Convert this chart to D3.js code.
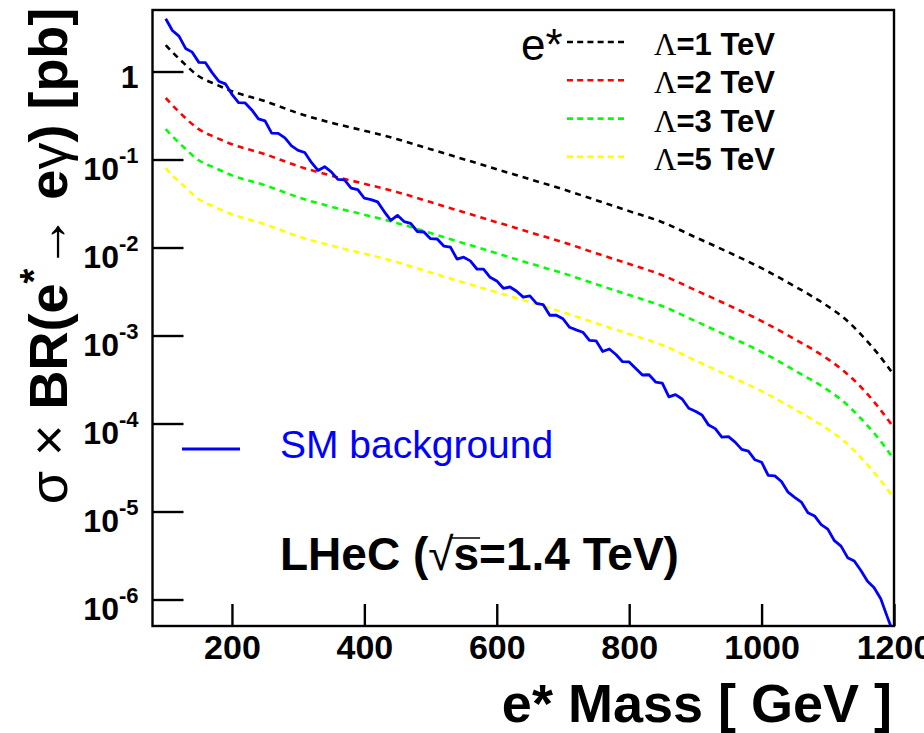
<!DOCTYPE html>
<html>
<head>
<meta charset="utf-8">
<script src="https://cdn.jsdelivr.net/npm/d3@7/dist/d3.min.js"></script>
<style>
body { margin: 0; background: #fff; }
svg { display: block; font-family: "Liberation Sans", Arial, sans-serif; }
</style>
</head>
<body>
<script>
// e* signal: sigma x BR (pb) at these masses (GeV)
var sigMass = [100, 110, 125, 150, 175, 200, 250, 300, 350, 400, 450, 500, 550, 600, 650, 700, 750, 800, 850, 900, 950, 1000, 1050, 1100, 1125, 1150, 1175, 1200];
var sigL1 = [1.99, 1.66, 1.29, 0.884, 0.717, 0.597, 0.46, 0.336, 0.262, 0.2125, 0.170, 0.131, 0.1008, 0.0776, 0.0597, 0.0459, 0.0345, 0.0259, 0.0194, 0.0131, 0.00884, 0.00582, 0.00363, 0.00215, 0.00157, 0.00103, 6.3e-4, 3.54e-4];
var sigL2 = [0.50, 0.415, 0.32, 0.221, 0.179, 0.149, 0.115, 0.084, 0.0655, 0.053, 0.0425, 0.0328, 0.0252, 0.0194, 0.0149, 0.0115, 0.0086, 0.0065, 0.00485, 0.00328, 0.00221, 0.00146, 9.1e-4, 5.4e-4, 3.9e-4, 2.6e-4, 1.58e-4, 8.9e-5];
var sigL3 = [0.221, 0.184, 0.143, 0.098, 0.080, 0.066, 0.051, 0.0373, 0.0291, 0.0236, 0.0189, 0.0146, 0.0112, 0.0086, 0.0066, 0.0051, 0.00383, 0.00288, 0.00216, 0.00146, 9.8e-4, 6.5e-4, 4.0e-4, 2.4e-4, 1.74e-4, 1.14e-4, 7.0e-5, 3.9e-5];
var sigL5 = [0.080, 0.066, 0.052, 0.0354, 0.0287, 0.0239, 0.0184, 0.0134, 0.0105, 0.0085, 0.0068, 0.0052, 0.0040, 0.0031, 0.0024, 0.00184, 0.00138, 0.00104, 7.8e-4, 5.2e-4, 3.5e-4, 2.33e-4, 1.45e-4, 8.6e-5, 6.3e-5, 4.1e-5, 2.5e-5, 1.42e-5];
var sigLabels = ['1 TeV', '2 TeV', '3 TeV', '5 TeV'];

// SM background histogram (pb)
var bgMass = [100, 110, 120, 130, 140, 150, 160, 170, 180, 190, 200, 210, 220, 230, 240, 250, 260, 270, 280, 290,
    300, 310, 320, 330, 340, 350, 360, 370, 380, 390, 400, 410, 420, 430, 440, 450, 460, 470, 480, 490,
    500, 510, 520, 530, 540, 550, 560, 570, 580, 590, 600, 610, 620, 630, 640, 650, 660, 670, 680, 690,
    700, 710, 720, 730, 740, 750, 760, 770, 780, 790, 800, 810, 820, 830, 840, 850, 860, 870, 880, 890,
    900, 910, 920, 930, 940, 950, 960, 970, 980, 990, 1000, 1010, 1020, 1030, 1040, 1050, 1060, 1070, 1080, 1090,
    1100, 1110, 1120, 1130, 1140, 1150, 1160, 1170, 1180, 1190, 1200];
var bgXsec = [3.98, 2.92, 2.52, 1.83, 1.66, 1.27, 1.26, 0.971, 0.776, 0.724, 0.550, 0.443, 0.439, 0.366, 0.290, 0.275, 0.199, 0.198, 0.176, 0.143,
    0.127, 0.120, 0.0927, 0.0752, 0.0828, 0.0724, 0.0594, 0.0586, 0.0474, 0.0455, 0.0363, 0.0350, 0.0330, 0.0256, 0.0203, 0.0232, 0.0197, 0.0188, 0.0152, 0.0150,
    0.0126, 0.0125, 0.0104, 0.0101, 0.00738, 0.00776, 0.00705, 0.00570, 0.00568, 0.00459, 0.00417, 0.00344, 0.00356, 0.00318, 0.00273, 0.00282, 0.00232, 0.00225, 0.00170, 0.00170,
    0.00155, 0.00124, 0.00116, 0.00109, 8.79e-4, 8.71e-4, 6.58e-4, 7.02e-4, 6.08e-4, 5.04e-4, 5.01e-4, 4.23e-4, 3.56e-4, 3.58e-4, 2.96e-4, 2.88e-4, 2.01e-4, 2.13e-4, 1.90e-4, 1.49e-4,
    1.38e-4, 1.25e-4, 9.59e-5, 8.75e-5, 7.01e-5, 7.08e-5, 6.14e-5, 5.08e-5, 4.85e-5, 3.87e-5, 3.63e-5, 2.58e-5, 2.54e-5, 2.19e-5, 1.66e-5, 1.45e-5, 1.28e-5, 9.68e-6, 8.91e-6, 7.08e-6,
    6.31e-6, 4.66e-6, 4.04e-6, 2.99e-6, 2.74e-6, 2.14e-6, 1.61e-6, 1.36e-6, 1.02e-6, 6.31e-7, 3.98e-7];

// axis ticks
var xMajor = [200, 400, 600, 800, 1000, 1200];
var yMajor = [1e-6, 1e-5, 1e-4, 1e-3, 1e-2, 1e-1, 1];
var yBase = ['10', '10', '10', '10', '10', '10', '1'];
var yExp = ['-6', '-5', '-4', '-3', '-2', '-1', ''];

var colors = ['#000000', '#ff0000', '#00ff00', '#ffff00'];

var scr = { w: 924, h: 733 };
var frame = { left: 152.5, right: 894, top: 10, bottom: 626 };

var svg = d3.select('body').append('svg')
    .attr('width', scr.w)
    .attr('height', scr.h);

var x = d3.scaleLinear().domain([80, 1200]).range([frame.left, frame.right]);
var y = d3.scaleLog().domain([5e-7, 5]).range([frame.bottom, frame.top]);

svg.append('clipPath').attr('id', 'plotclip')
    .append('rect')
    .attr('x', frame.left).attr('y', frame.top)
    .attr('width', frame.right - frame.left)
    .attr('height', frame.bottom - frame.top);

var plot = svg.append('g').attr('clip-path', 'url(#plotclip)');

// signal curves
var sigSeries = [sigL1, sigL2, sigL3, sigL5];
var sigLine = d3.line()
    .x(function(d) { return x(d[0]); })
    .y(function(d) { return y(d[1]); })
    .curve(d3.curveMonotoneX);

plot.selectAll('path.sig')
    .data(sigSeries)
    .enter()
    .append('path')
    .classed('sig', true)
    .attr('d', function(s) {
        return sigLine(s.map(function(v, i) { return [sigMass[i], v]; }));
    })
    .attr('fill', 'none')
    .attr('stroke', function(d, i) { return colors[i]; })
    .attr('stroke-width', 2.6)
    .attr('stroke-dasharray', '6,5');

// background
var bgLine = d3.line()
    .x(function(d) { return x(d[0]); })
    .y(function(d) { return y(d[1]); });

plot.append('path')
    .attr('d', bgLine(bgXsec.map(function(v, i) { return [bgMass[i], v]; })))
    .attr('fill', 'none')
    .attr('stroke', '#0000ff')
    .attr('stroke-width', 2.8)
    .attr('stroke-linejoin', 'round');

// axes (ticks point inward)
var xAxisG = svg.append('g').attr('transform', 'translate(0,' + frame.bottom + ')');
xAxisG.call(d3.axisBottom(x).tickValues(d3.range(100, 1201, 50)).tickSize(-11).tickSizeOuter(0).tickFormat(''));
xAxisG.call(d3.axisBottom(x).tickValues(xMajor).tickSize(-22).tickSizeOuter(0).tickPadding(9).tickFormat(d3.format('d')));
var yAxisG = svg.append('g').attr('transform', 'translate(' + frame.left + ',0)');
yAxisG.call(d3.axisLeft(y).tickValues(y.ticks().filter(function(v) { return yMajor.indexOf(v) < 0; })).tickSize(-16).tickSizeOuter(0).tickFormat(''));
yAxisG.call(d3.axisLeft(y).tickValues(yMajor).tickSize(-31).tickSizeOuter(0).tickFormat(''));

svg.selectAll('.domain').remove();
svg.selectAll('.tick line').attr('stroke', '#000').attr('stroke-width', 2.4);
xAxisG.selectAll('text')
    .attr('font-family', '"Liberation Sans", Arial, sans-serif')
    .attr('font-weight', 'bold')
    .attr('font-size', 34)
    .attr('fill', '#000');

// y tick labels with exponents
var yLab = svg.append('g').selectAll('text')
    .data(yMajor)
    .enter()
    .append('text')
    .attr('x', frame.left - 14)
    .attr('y', function(d, i) { return y(d) + (yExp[i] ? 20 : 16); })
    .attr('text-anchor', 'end')
    .attr('font-weight', 'bold')
    .attr('font-size', 32);
yLab.append('tspan').text(function(d, i) { return yBase[i]; });
yLab.append('tspan')
    .attr('dy', -17)
    .attr('font-size', 22)
    .text(function(d, i) { return yExp[i]; });

// frame
svg.append('rect')
    .attr('x', frame.left).attr('y', frame.top)
    .attr('width', frame.right - frame.left)
    .attr('height', frame.bottom - frame.top)
    .attr('fill', 'none')
    .attr('stroke', '#000')
    .attr('stroke-width', 2.4);

// axis titles
svg.append('text')
    .attr('x', 892)
    .attr('y', 722)
    .attr('text-anchor', 'end')
    .attr('font-weight', 'bold')
    .attr('font-size', 54)
    .text('e* Mass [ GeV ]');

var yTitle = svg.append('text')
    .attr('transform', 'translate(67,256) rotate(-90)')
    .attr('text-anchor', 'middle')
    .attr('font-size', 54)
    .attr('font-weight', 'bold');
var yParts = [
    { t: 'σ ', w: 'normal' },
    { t: '× ', w: 'normal' },
    { t: 'BR(e', w: 'bold' },
    { t: '*', w: 'bold', sup: true },
    { t: '→ ', w: 'normal' },
    { t: 'e', w: 'bold' },
    { t: 'γ', w: 'normal' },
    { t: ') [pb]', w: 'bold' }
];
var prevSup = false;
yParts.forEach(function(p) {
    var ts = yTitle.append('tspan').attr('font-weight', p.w).text(p.t);
    if (p.sup) {
        ts.attr('dy', -20).attr('font-size', 38);
    } else if (prevSup) {
        ts.attr('dy', 20);
    }
    prevSup = !!p.sup;
});

// legend
svg.append('text')
    .attr('x', 521)
    .attr('y', 60)
    .attr('font-size', 44)
    .text('e*');

var legRows = svg.append('g').selectAll('g')
    .data(sigLabels)
    .enter()
    .append('g')
    .attr('transform', function(d, i) { return 'translate(0,' + (42 + i * 38.3) + ')'; });
legRows.append('line')
    .attr('x1', 567).attr('x2', 624)
    .attr('stroke', function(d, i) { return colors[i]; })
    .attr('stroke-width', 2.6)
    .attr('stroke-dasharray', '6,4.2');
var legText = legRows.append('text')
    .attr('x', 654)
    .attr('y', 13)
    .attr('font-size', 31)
    .attr('font-weight', 'bold');
legText.append('tspan')
    .attr('font-family', '"Liberation Serif", serif')
    .attr('font-weight', 'normal')
    .text('Λ');
legText.append('tspan').text(function(d) { return '=' + d; });

// SM background key
svg.append('line')
    .attr('x1', 182).attr('x2', 240)
    .attr('y1', 449).attr('y2', 449)
    .attr('stroke', '#0000ff')
    .attr('stroke-width', 3);
svg.append('text')
    .attr('x', 280)
    .attr('y', 458)
    .attr('font-size', 39)
    .attr('fill', '#0000ff')
    .text('SM background');

// LHeC label with sqrt(s)
var lhec = svg.append('text')
    .attr('x', 280)
    .attr('y', 570)
    .attr('font-size', 46)
    .attr('font-weight', 'bold');
lhec.append('tspan').text('LHeC (');
lhec.append('tspan').attr('font-weight', 'normal').text('√');
lhec.append('tspan').text('s=1.4 TeV)');
var sIdx = 'LHeC (√'.length;
var sBox = lhec.node().getExtentOfChar(sIdx);
var rBox = lhec.node().getExtentOfChar(sIdx - 1);
svg.append('line')
    .attr('x1', rBox.x + rBox.width - 2)
    .attr('x2', sBox.x + sBox.width + 1)
    .attr('y1', 538).attr('y2', 538)
    .attr('stroke', '#000')
    .attr('stroke-width', 1.5);
</script>
</body>
</html>
